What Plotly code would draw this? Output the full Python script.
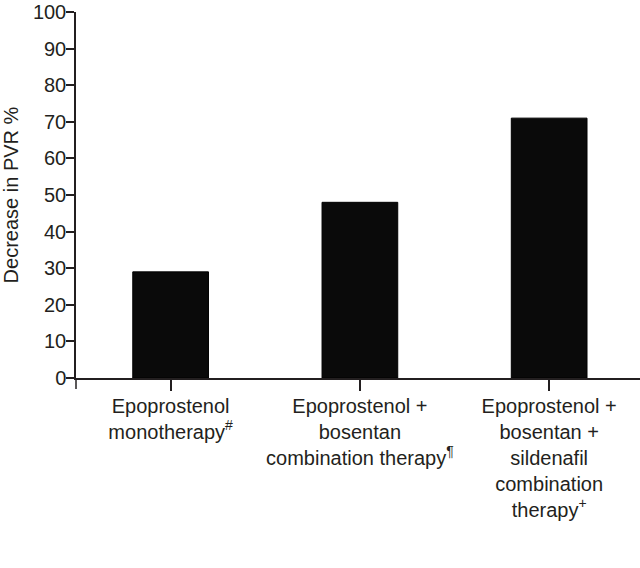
import plotly.graph_objects as go

categories = [
    "Epoprostenol<br>monotherapy<sup>#</sup>",
    "Epoprostenol +<br>bosentan<br>combination therapy<sup>¶</sup>",
    "Epoprostenol +<br>bosentan +<br>sildenafil<br>combination<br>therapy<sup>+</sup>",
]
values = [29, 48, 71]
y_ticks = [0, 10, 20, 30, 40, 50, 60, 70, 80, 90, 100]

FONT = "Liberation Sans, Arial, sans-serif"
TXT = "#231f20"

fig = go.Figure()
fig.add_trace(go.Bar(
    x=categories, y=values, width=0.4,
    marker=dict(color="#0a0a0a", line=dict(color="#000000", width=1)),
))

fig.update_layout(
    width=640, height=568,
    margin=dict(l=76, r=0, t=12, b=190),
    paper_bgcolor="white", plot_bgcolor="white",
    showlegend=False,
    font=dict(family=FONT, size=20, color=TXT),
    xaxis=dict(
        type="category", range=[-0.5, 2.48],
        showline=True, linecolor=TXT, linewidth=1.5,
        ticks="outside", ticklen=11, tickwidth=1.5, tickcolor=TXT,
        tickfont=dict(family=FONT, size=20, color=TXT),
        ticklabelstandoff=-2,
        showgrid=False, zeroline=False, automargin=False,
    ),
    yaxis=dict(
        range=[0, 100], tickvals=y_ticks,
        showline=True, linecolor=TXT, linewidth=1.5,
        ticks="outside", ticklen=8, tickwidth=1.5, tickcolor=TXT,
        tickfont=dict(family=FONT, size=20, color=TXT),
        ticklabeloverflow="allow", ticklabelstandoff=-4,
        title=dict(text="Decrease in PVR %", font=dict(family=FONT, size=20, color=TXT), standoff=14),
        showgrid=False, zeroline=False, automargin=False,
    ),
)
# y-axis line extends slightly below the x axis
fig.add_shape(type="line", xref="paper", yref="paper", x0=0, x1=0, y0=0, y1=-0.03,
              line=dict(color=TXT, width=1.5))

fig.write_html("out.html", config={"displayModeBar": False},
               post_script="document.body.style.margin='0';")
